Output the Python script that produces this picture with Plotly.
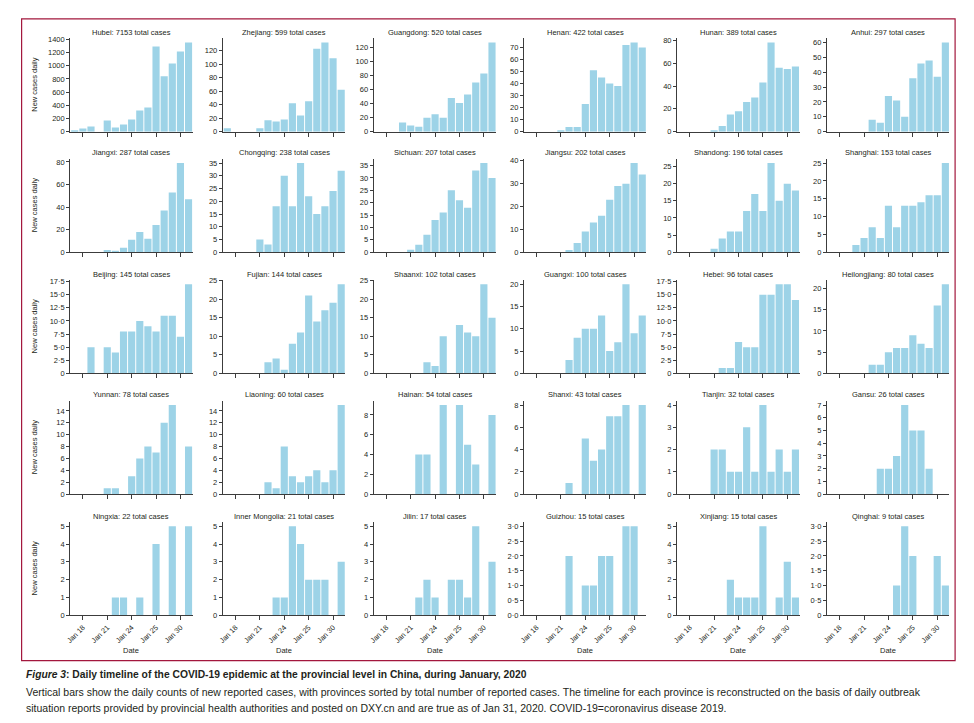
import plotly.graph_objects as go

# ---------------- data ----------------
DAYS = list(range(17, 32))  # 17 Jan .. 31 Jan 2020
X_TICK_VALUES = [18, 21, 24, 27, 30]
X_TICK_LABELS = ["Jan 18", "Jan 21", "Jan 24", "Jan 25", "Jan 30"]

PROVINCES = ["Hubei", "Zhejiang", "Guangdong", "Henan", "Hunan", "Anhui",
             "Jiangxi", "Chongqing", "Sichuan", "Jiangsu", "Shandong", "Shanghai",
             "Beijing", "Fujian", "Shaanxi", "Guangxi", "Hebei", "Heilongjiang",
             "Yunnan", "Liaoning", "Hainan", "Shanxi", "Tianjin", "Gansu",
             "Ningxia", "Inner Mongolia", "Jilin", "Guizhou", "Xinjiang", "Qinghai"]
TOTALS = [7153, 599, 520, 422, 389, 297,
          287, 238, 207, 202, 196, 153,
          145, 144, 102, 100, 96, 80,
          78, 60, 54, 43, 32, 26,
          22, 21, 17, 15, 15, 9]
Y_TICK_STEPS = [200, 20, 20, 10, 20, 10,
                20, 5, 5, 10, 5, 5,
                2.5, 5, 5, 5, 2.5, 5,
                2, 2, 2, 2, 1, 1,
                1, 1, 1, 0.5, 1, 0.5]
ZERO_WITH_DECIMAL = {"Guizhou"}

hubei = [17, 50, 77, 0, 170, 65, 110, 185, 320, 365, 1290, 840, 1035, 1215, 1350]
zhejiang = [5, 0, 0, 0, 5, 17, 15, 18, 42, 24, 45, 123, 132, 109, 62]
guangdong = [0, 0, 0, 13, 9, 7, 20, 25, 20, 48, 41, 53, 70, 83, 127]
henan = [0, 0, 0, 0, 1, 4, 4, 23, 51, 45, 40, 38, 72, 74, 70]
hunan = [0, 0, 0, 0, 1, 5, 15, 18, 26, 30, 43, 78, 56, 55, 57]
anhui = [0, 0, 0, 0, 0, 8, 6, 24, 21, 10, 36, 46, 48, 37, 60]
jiangxi = [0, 0, 0, 0, 2, 1, 4, 11, 18, 12, 24, 37, 53, 79, 47]
chongqing = [0, 0, 0, 0, 5, 3, 18, 30, 18, 35, 22, 15, 18, 24, 32]
sichuan = [0, 0, 0, 0, 1, 3, 7, 13, 16, 25, 21, 18, 33, 36, 30]
jiangsu = [0, 0, 0, 0, 0, 1, 4, 9, 13, 16, 23, 29, 30, 39, 34]
shandong = [0, 0, 0, 0, 1, 4, 6, 6, 12, 17, 12, 26, 15, 20, 18]
shanghai = [0, 0, 0, 2, 4, 7, 4, 13, 7, 13, 13, 14, 16, 16, 25]
beijing = [0, 0, 5, 0, 5, 4, 8, 8, 10, 9, 8, 11, 11, 7, 17]
fujian = [0, 0, 0, 0, 0, 3, 4, 1, 8, 11, 21, 14, 17, 19, 24]
shaanxi = [0, 0, 0, 0, 0, 0, 3, 2, 10, 0, 13, 11, 10, 24, 15]
guangxi = [0, 0, 0, 0, 0, 3, 8, 10, 10, 13, 5, 7, 20, 9, 13]
hebei = [0, 0, 0, 0, 0, 1, 1, 6, 5, 5, 15, 15, 17, 17, 14]
heilongjiang = [0, 0, 0, 0, 0, 2, 2, 5, 6, 6, 9, 7, 6, 16, 21]
yunnan = [0, 0, 0, 0, 1, 1, 0, 3, 6, 8, 7, 12, 15, 0, 8]
liaoning = [0, 0, 0, 0, 0, 2, 1, 8, 3, 2, 3, 4, 2, 4, 15]
hainan = [0, 0, 0, 0, 0, 4, 4, 0, 9, 0, 9, 5, 3, 0, 8]
shanxi = [0, 0, 0, 0, 0, 1, 0, 5, 3, 4, 7, 7, 8, 0, 8]
tianjin = [0, 0, 0, 0, 2, 2, 1, 1, 3, 1, 4, 1, 2, 1, 2]
gansu = [0, 0, 0, 0, 0, 0, 2, 2, 3, 7, 5, 5, 2, 0, 0]
ningxia = [0, 0, 0, 0, 0, 1, 1, 0, 1, 0, 4, 0, 5, 0, 5]
inner_mongolia = [0, 0, 0, 0, 0, 0, 1, 1, 5, 4, 2, 2, 2, 0, 3]
jilin = [0, 0, 0, 0, 0, 1, 2, 1, 0, 2, 2, 1, 5, 0, 3]
guizhou = [0, 0, 0, 0, 0, 2, 0, 1, 1, 2, 2, 0, 3, 3, 0]
xinjiang = [0, 0, 0, 0, 0, 0, 2, 1, 1, 1, 5, 0, 1, 3, 1]
qinghai = [0, 0, 0, 0, 0, 0, 0, 0, 1, 3, 2, 0, 0, 2, 1]

SERIES = [hubei, zhejiang, guangdong, henan, hunan, anhui,
          jiangxi, chongqing, sichuan, jiangsu, shandong, shanghai,
          beijing, fujian, shaanxi, guangxi, hebei, heilongjiang,
          yunnan, liaoning, hainan, shanxi, tianjin, gansu,
          ningxia, inner_mongolia, jilin, guizhou, xinjiang, qinghai]

CAPTION_TITLE = ("<b><i>Figure 3</i>: Daily timeline of the COVID-19 epidemic at the "
                 "provincial level in China, during January, 2020</b>")
CAPTION_LINES = [
    "Vertical bars show the daily counts of new reported cases, with provinces sorted by total number "
    "of reported cases. The timeline for each province is reconstructed on the basis of daily outbreak",
    "situation reports provided by provincial health authorities and posted on DXY.cn and are true as "
    "of Jan 31, 2020. COVID-19=coronavirus disease 2019.",
]

# ---------------- layout constants ----------------
W, H = 974, 723
COL_LEFT = [65.6, 219.0, 370.6, 521.6, 675.6, 826.3]
PLOT_W = 123.0
ROW_ZERO = [129.3, 251.3, 374.0, 496.3, 619.0]
PLOT_H = 94.7
BAR_COLOR = "#9dd3e7"
AXIS_COLOR = "#3c3c3c"
TEXT_COLOR = "#231f20"
FONT = "Liberation Sans, Arial, sans-serif"
CAP_FONT = "Liberation Sans, Arial, sans-serif"


def px_x(p):
    return p / W


def px_y(p):
    return 1 - p / H


def fmt_tick(v, step, name):
    if step % 1:
        if v == 0 and name not in ZERO_WITH_DECIMAL:
            return "0"
        return f"{v:.1f}".replace(".", "\u00b7")
    return str(int(round(v)))


fig = go.Figure()
annotations = []
layout_axes = {}

for i, (name, total, step, vals) in enumerate(zip(PROVINCES, TOTALS, Y_TICK_STEPS, SERIES)):
    r, c = divmod(i, 6)
    k = i + 1
    xa = "x" if k == 1 else f"x{k}"
    ya = "y" if k == 1 else f"y{k}"
    fig.add_trace(go.Bar(x=DAYS, y=vals, xaxis=xa, yaxis=ya, width=0.88,
                         marker=dict(color=BAR_COLOR, line=dict(width=0)),
                         showlegend=False, hoverinfo="x+y"))
    left = COL_LEFT[c]
    zero = ROW_ZERO[r]
    top = zero - PLOT_H
    ymax = max(vals) * 1.05
    tv = []
    t = 0.0
    while t <= ymax + 1e-9:
        tv.append(t)
        t += step
    tt = [fmt_tick(v, step, name) for v in tv]
    xkey = "xaxis" if k == 1 else f"xaxis{k}"
    ykey = "yaxis" if k == 1 else f"yaxis{k}"
    layout_axes[xkey] = dict(
        domain=[px_x(left), px_x(left + PLOT_W)], anchor=ya,
        range=[16.45, 31.5], tickvals=X_TICK_VALUES,
        ticktext=X_TICK_LABELS, showticklabels=(r == 4), tickangle=-45,
        ticks="outside", ticklen=4, tickwidth=1.1, tickcolor=AXIS_COLOR,
        showline=True, linecolor=AXIS_COLOR, linewidth=1.2,
        showgrid=False, zeroline=False, fixedrange=True,
        tickfont=dict(family=FONT, size=7.3, color=TEXT_COLOR))
    layout_axes[ykey] = dict(
        domain=[px_y(zero), px_y(top)], anchor=xa,
        range=[0, ymax], tickvals=tv, ticktext=tt,
        ticks="outside", ticklen=3, tickwidth=1.1, tickcolor=AXIS_COLOR,
        showline=True, linecolor=AXIS_COLOR, linewidth=1.2,
        showgrid=False, zeroline=False, fixedrange=True,
        tickfont=dict(family=FONT, size=7.5, color=TEXT_COLOR))
    annotations.append(dict(
        text=f"{name}: {total} total cases", xref="paper", yref="paper",
        x=px_x(left + PLOT_W / 2), y=px_y(top - 5.8), xanchor="center", yanchor="middle",
        showarrow=False, font=dict(family=FONT, size=7.5, color=TEXT_COLOR)))
    if c == 0:
        annotations.append(dict(
            text="New cases daily", xref="paper", yref="paper",
            x=px_x(30), y=px_y(zero - PLOT_H / 2), textangle=-90,
            xanchor="center", yanchor="middle", showarrow=False,
            font=dict(family=FONT, size=7.5, color=TEXT_COLOR)))
    if r == 4:
        annotations.append(dict(
            text="Date", xref="paper", yref="paper",
            x=px_x(left + PLOT_W / 2), y=px_y(654.7), xanchor="center", yanchor="middle",
            showarrow=False, font=dict(family=FONT, size=7.5, color=TEXT_COLOR)))

annotations.append(dict(
    text=CAPTION_TITLE, xref="paper", yref="paper", x=px_x(19), y=px_y(679),
    xanchor="left", yanchor="middle", showarrow=False,
    font=dict(family=CAP_FONT, size=10.3, color=TEXT_COLOR)))
for j, line in enumerate(CAPTION_LINES):
    annotations.append(dict(
        text=line, xref="paper", yref="paper", x=px_x(19), y=px_y(697 + 15.5 * j),
        xanchor="left", yanchor="middle", showarrow=False,
        font=dict(family=CAP_FONT, size=10.5, color=TEXT_COLOR)))

fig.update_layout(
    width=W, height=H, margin=dict(l=0, r=0, t=0, b=0),
    paper_bgcolor="white", plot_bgcolor="white",
    bargap=0.1, annotations=annotations,
    shapes=[dict(type="rect", xref="paper", yref="paper",
                 x0=px_x(16.7), x1=px_x(955), y0=px_y(665), y1=px_y(15),
                 line=dict(color="#a3173d", width=1.2), fillcolor="rgba(0,0,0,0)")],
    **layout_axes)

fig.write_html(
    "out.html",
    config={"displayModeBar": False},
    post_script="document.body.style.margin='0';document.body.style.overflow='hidden';")
